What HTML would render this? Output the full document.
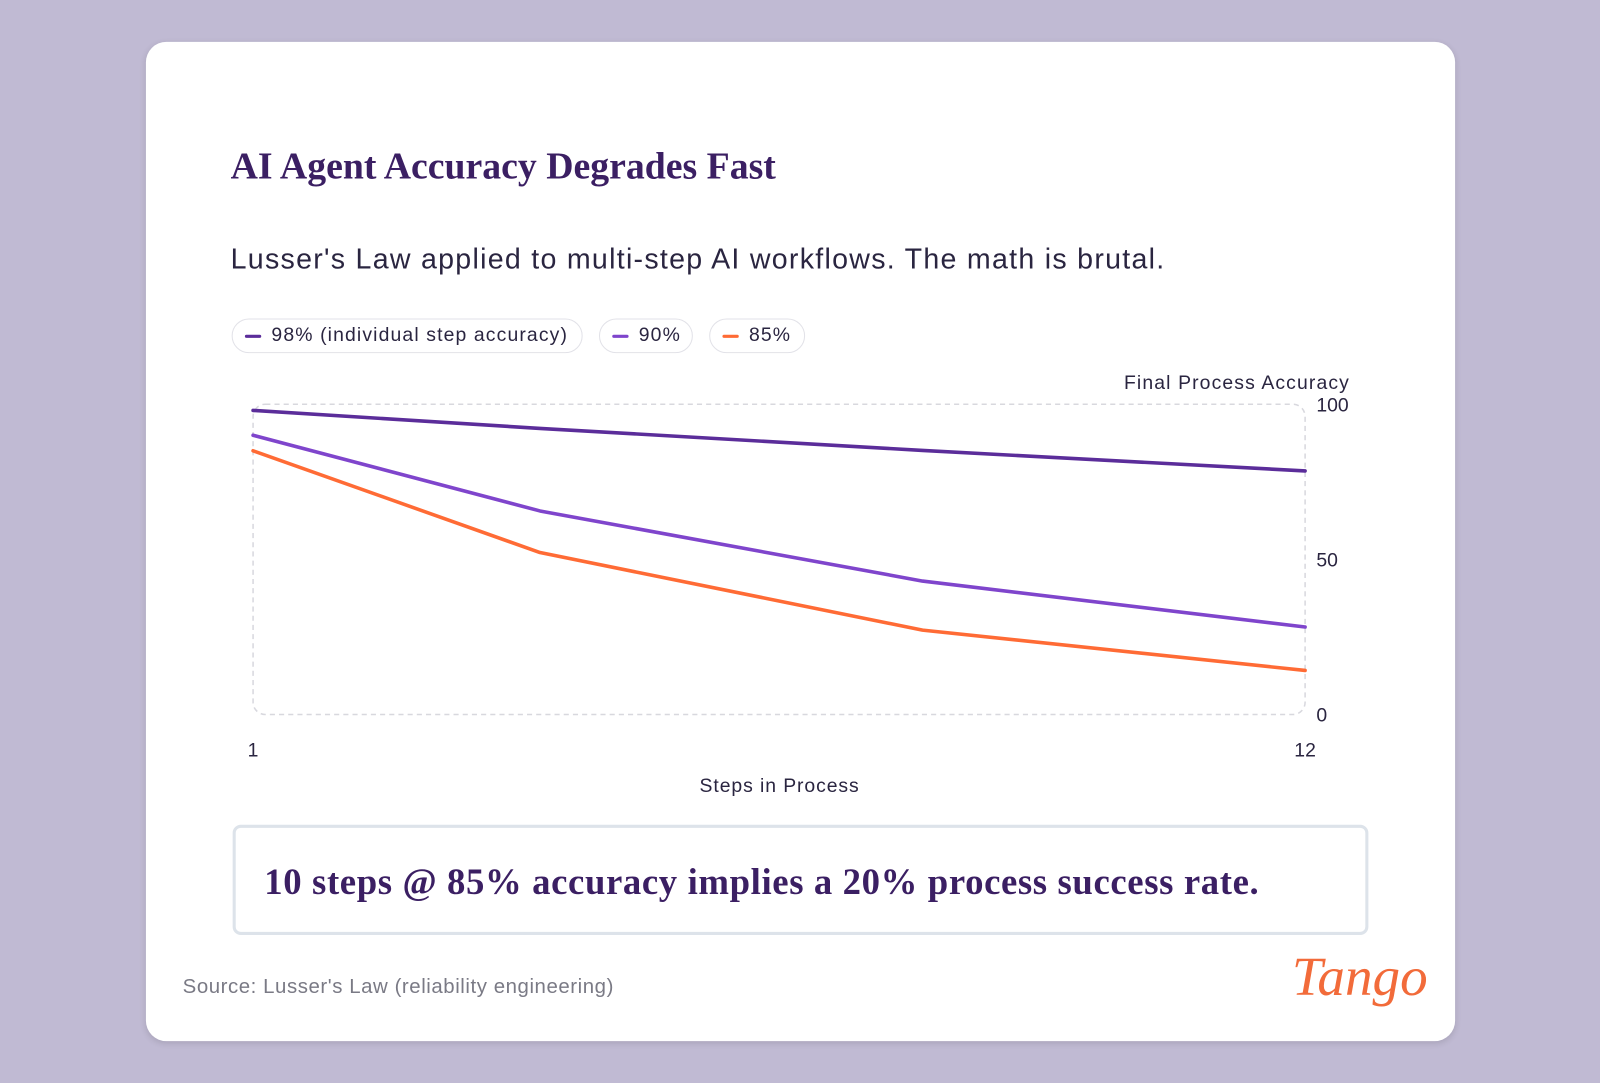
<!DOCTYPE html>
<html><head><meta charset="utf-8">
<style>
html,body{margin:0;padding:0;width:1600px;height:1083px;overflow:hidden;background:#c0bad3;}
#wrap{position:absolute;left:0;top:0;width:1568px;height:1061px;transform:scale(1.020408,1.020735);transform-origin:0 0;font-family:"Liberation Sans",sans-serif;}
.card{position:absolute;left:143px;top:41px;width:1283px;height:979px;background:#fff;border-radius:20px;box-shadow:0 2px 6px rgba(0,0,0,0.12);}
.title{position:absolute;left:226px;top:142px;font-family:"Liberation Serif",serif;font-weight:bold;font-size:37px;color:#3b1f63;letter-spacing:0px;}
.sub{position:absolute;left:226px;top:238px;font-size:28px;color:#2a2540;letter-spacing:1.25px;}
.pill{position:absolute;top:312px;height:34px;border:1.5px solid #e2e2e8;border-radius:18px;box-sizing:border-box;font-size:19px;color:#2a2540;line-height:32px;padding-left:38px;letter-spacing:1.1px;}
.pill i{position:absolute;left:12px;top:15px;width:16px;height:3px;border-radius:2px;}
.callout{position:absolute;left:228px;top:808px;width:1113px;height:108px;box-sizing:border-box;border:3px solid #dde3ea;border-radius:8px;}
.callout span{position:absolute;left:28px;top:32px;font-family:"Liberation Serif",serif;font-weight:bold;font-size:36px;color:#3b1f63;letter-spacing:0.6px;white-space:nowrap;}
.src{position:absolute;left:179px;top:956px;font-size:20px;color:#7a7a85;letter-spacing:0.55px;}
.logo{position:absolute;left:1266px;top:926px;font-family:"Liberation Serif",serif;font-style:italic;font-size:54px;color:#f26b3a;}
svg{position:absolute;left:0;top:0;}
</style></head><body>
<div id="wrap">
<div class="card"></div>
<div class="title">AI Agent Accuracy Degrades Fast</div>
<div class="sub">Lusser's Law applied to multi-step AI workflows. The math is brutal.</div>
<div class="pill" style="left:227px;width:344px"><i style="background:#5b2d9a"></i>98% (individual step accuracy)</div>
<div class="pill" style="left:587px;width:92px"><i style="background:#7f45cc"></i>90%</div>
<div class="pill" style="left:695px;width:94px"><i style="background:#ff6b35"></i>85%</div>
<svg width="1568" height="1061" id="chart">
<rect x="248" y="396" width="1031" height="304" rx="12" fill="none" stroke="#d8d8de" stroke-width="1.5" stroke-dasharray="5,4"/>
<text x="1323" y="381" text-anchor="end" font-size="19" letter-spacing="1.1" fill="#2a2540">Final Process Accuracy</text>
<text x="764" y="776" text-anchor="middle" font-size="19" letter-spacing="0.9" fill="#2a2540">Steps in Process</text>
<g id="ticks"></g><g id="lines"></g>
</svg>
<div class="callout"><span>10 steps @ 85% accuracy implies a 20% process success rate.</span></div>
<div class="src">Source: Lusser's Law (reliability engineering)</div>
<div class="logo">Tango</div>
</div>
<script>
const steps=[1,4,8,12];
const s98=[98,92.2,85.1,78.5];
const s90=[90,65.6,43,28.2];
const s85=[85,52.2,27.2,14.2];
const yTicks=[0,50,100];
const xTicks=[1,12];
const NS="http://www.w3.org/2000/svg";
const xs=v=>248+(v-1)*(1279-248)/11;
const ys=v=>700-v*(304/100);
const tg=document.getElementById('ticks'),lg=document.getElementById('lines');
yTicks.forEach(t=>{const e=document.createElementNS(NS,'text');


e.setAttribute('x',1290);e.setAttribute('y',ys(t)+7);e.setAttribute('font-size','19');e.setAttribute('fill','#2a2540');e.textContent=t;tg.appendChild(e);});
xTicks.forEach(t=>{const e=document.createElementNS(NS,'text');


e.setAttribute('x',xs(t));e.setAttribute('y',741);e.setAttribute('text-anchor','middle');e.setAttribute('font-size','19');e.setAttribute('fill','#2a2540');e.textContent=t;tg.appendChild(e);});
[[s98,'#5b2d9a','line-98'],[s90,'#7f45cc','line-90'],[s85,'#ff6b35','line-85']].forEach(([d,c,n])=>{
const p=document.createElementNS(NS,'polyline');


p.setAttribute('points',d.map((v,i)=>xs(steps[i])+','+ys(v)).join(' '));
p.setAttribute('fill','none');p.setAttribute('stroke',c);p.setAttribute('stroke-width','3.5');p.setAttribute('stroke-linejoin','round');p.setAttribute('stroke-linecap','round');lg.appendChild(p);});
</script>
</body></html>
